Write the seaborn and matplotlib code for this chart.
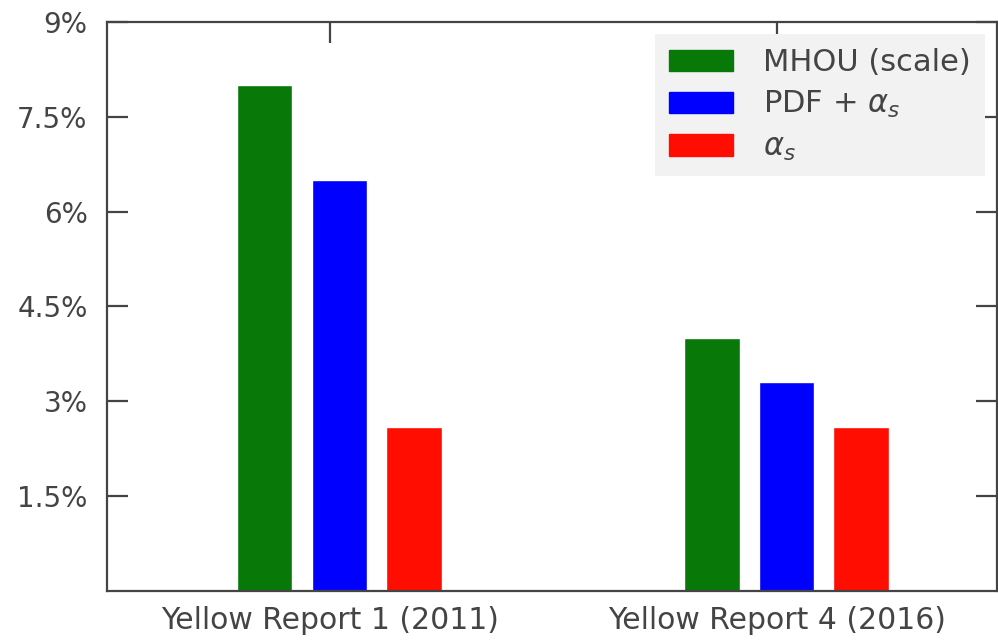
import matplotlib
matplotlib.use("Agg")
import matplotlib.pyplot as plt
import seaborn as sns
import pandas as pd

reports = ["Yellow Report 1 (2011)", "Yellow Report 4 (2016)"]
sources = ["MHOU (scale)", r"PDF + $\alpha_s$", r"$\alpha_s$"]
mhou = [8.0, 4.0]
pdf_as = [6.5, 3.3]
alpha_s = [2.6, 2.6]
yticks = [1.5, 3, 4.5, 6, 7.5, 9]

colors = ["#087808", "#0000ff", "#ff0d00"]
grey = "#444444"

rows = []
for src, vals in zip(sources, [mhou, pdf_as, alpha_s]):
    for rep, v in zip(reports, vals):
        rows.append({"report": rep, "source": src, "value": v})
df = pd.DataFrame(rows)

sns.set_style("ticks")
plt.rcParams["font.family"] = ["DejaVu Sans"]
plt.rcParams["mathtext.fontset"] = "dejavusans"

fig = plt.figure(figsize=(9.98, 6.4), dpi=100)
ax = fig.add_axes([0.1072, 0.0766, 0.8918, 0.889])

sns.barplot(data=df, x="report", y="value", hue="source", order=reports,
            hue_order=sources, palette=dict(zip(sources, colors)),
            width=0.5, gap=0.26, saturation=1, ax=ax, legend=False)

# the original ticks sit a little left of the group centres
ax.set_xticks([i - 0.021 for i in range(len(reports))])
ax.set_xticklabels(reports)
ax.set_xlim(-0.52, 1.471)
ax.set_ylim(0, 9)
ax.set_yticks(yticks)
ax.set_yticklabels([f"{t:g}%" for t in yticks])
ax.set_xlabel("")
ax.set_ylabel("")

for sp in ax.spines.values():
    sp.set_visible(True)
    sp.set_color(grey)
    sp.set_linewidth(1.6)
ax.tick_params(axis="both", direction="in", length=15, width=1.6, color=grey,
               labelcolor=grey, labelsize=20, top=True, right=True)
ax.tick_params(axis="x", pad=11, labelsize=21.5)
ax.tick_params(axis="y", pad=14)

handles = [plt.Rectangle((0, 0), 1, 1, color=c) for c in colors]
leg = ax.legend(handles, sources, loc="upper right", fontsize=22,
                frameon=True, facecolor="#f2f2f2", edgecolor="none",
                framealpha=1, fancybox=False, handlelength=2.1,
                handleheight=0.7, handletextpad=1.0, labelspacing=0.4,
                borderaxespad=0.4, borderpad=0.45)
for t in leg.get_texts():
    t.set_color(grey)

fig.savefig("out.png", dpi=100)
